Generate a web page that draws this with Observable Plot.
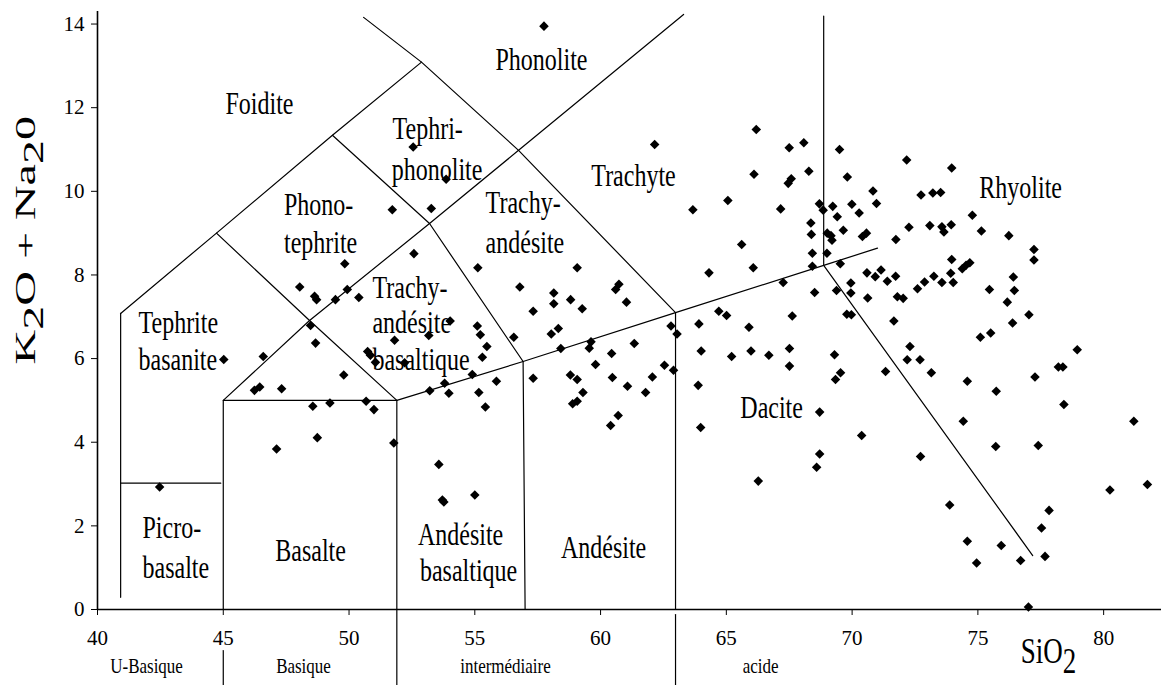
<!DOCTYPE html>
<html><head><meta charset="utf-8">
<script src="https://cdn.jsdelivr.net/npm/d3@7"></script>
<script src="https://cdn.jsdelivr.net/npm/@observablehq/plot@0.6"></script>
<style>body{margin:0;background:#fff;} svg{display:block;}</style>
</head><body><div id="chart"></div>
<script>
// ---- data: SiO2 (wt%) and K2O+Na2O (wt%) ----
const sio2 = [
49.83,48.04,48.63,48.71,49.46,49.93,50.39,48.47,48.67,45.02,46.59,50.74,50.85,51.05,49.79,46.24,46.45,47.32,48.56,49.24,50.68,50.99,48.74,47.12,51.78,42.47,51.81,
57.75,52.55,53.86,51.72,53.27,52.58,62.15,66.19,66.10,65.06,63.67,65.61,66.07,64.31,55.12,59.07,56.79,58.14,58.14,58.81,59.27,57.32,60.73,60.60,61.03,64.70,65.01,63.91,65.90,62.80,63.04,58.04,58.32,55.10,55.22,53.17,54.02,56.55,
55.48,55.30,52.21,54.90,53.21,53.80,53.97,55.16,55.42,55.86,53.57,53.77,53.71,55.00,58.42,59.62,59.55,60.44,61.34,57.32,58.80,59.07,59.30,58.89,59.07,59.80,60.47,61.07,61.79,62.06,62.54,62.90,60.70,60.40,64.00,63.88,63.98,65.21,65.98,66.27,
67.50,68.08,69.50,68.28,67.46,67.58,69.81,67.16,68.70,68.85,69.23,69.41,69.99,70.28,70.83,70.97,68.36,68.38,69.01,69.16,69.20,69.65,70.41,70.57,68.42,68.42,69.00,69.53,67.26,68.51,69.38,69.95,69.95,70.62,70.59,70.92,71.15,71.40,71.73,71.80,72.03,67.62,69.79,69.97,71.66,
72.17,71.74,72.26,72.74,73.21,73.52,73.96,73.09,73.57,73.65,73.94,74.78,75.14,76.23,77.23,77.23,73.96,74.38,74.53,74.68,73.25,72.88,72.60,73.57,73.92,74.02,75.46,76.41,76.45,76.17,76.38,77.03,75.10,75.51,
66.69,67.51,67.51,69.30,69.34,69.54,71.33,72.19,72.30,72.70,73.15,74.58,75.73,77.27,78.20,78.38,78.95,78.42,74.42,75.71,77.40,81.20,68.71,70.38,72.72,68.71,68.59,73.88,74.58,75.93,74.95,76.70,77.83,77.53,77.67,80.25,81.74,77.01
];
const alkali = [
8.27,7.71,7.49,7.41,7.41,7.65,7.46,6.79,6.37,5.98,6.05,6.17,6.08,5.91,5.61,5.24,5.32,5.28,4.86,4.94,4.98,4.78,4.11,3.84,3.98,2.93,6.44,
13.95,11.06,10.29,9.56,9.59,8.51,11.12,11.48,10.41,9.78,9.56,8.73,8.17,8.05,8.17,8.17,7.71,7.57,7.31,7.41,7.19,7.13,7.78,7.65,7.35,7.13,7.03,6.83,6.75,6.78,6.59,6.59,6.72,6.78,6.57,6.55,6.90,6.51,
6.29,6.03,5.90,5.62,5.23,5.41,5.17,5.19,4.84,5.46,3.47,2.57,2.62,2.74,6.24,6.40,6.25,6.12,6.36,5.53,5.61,5.50,5.19,4.92,4.98,5.86,5.55,5.34,5.19,5.56,5.84,5.72,4.64,4.40,6.18,5.36,4.35,6.05,6.18,3.07,
11.04,11.16,11.00,10.48,10.19,10.30,10.34,9.58,9.70,9.55,9.64,9.39,9.69,9.48,10.01,9.71,9.24,8.97,9.00,8.94,8.83,9.07,8.92,9.00,8.52,8.21,8.52,8.27,7.82,7.58,7.63,7.81,7.57,7.45,8.05,7.96,8.12,7.85,7.97,7.48,7.44,7.02,7.06,7.05,6.90,
10.75,8.85,9.14,9.91,9.96,9.97,10.56,9.18,9.15,9.03,9.20,9.43,9.05,8.94,8.61,8.36,8.37,8.15,8.23,8.29,7.97,7.83,7.67,7.82,8.04,7.82,7.65,7.95,7.63,7.35,6.85,7.05,6.51,6.61,
6.08,6.24,5.82,6.09,5.50,5.66,5.69,5.97,6.29,5.97,5.66,5.46,5.22,5.56,5.80,5.80,6.21,4.90,4.50,3.90,3.92,4.50,4.72,4.16,3.66,3.72,3.40,2.50,1.63,1.53,1.11,1.17,2.37,1.95,1.27,2.86,2.99,0.06
];

// ---- TAS field boundaries (SiO2, alkali vertices as drawn) ----
const boundaries = [
  [[40.92,0.29],[40.92,7.08]],
  [[40.92,7.08],[44.73,9.00],[49.34,11.34],[52.88,13.09]],
  [[50.58,14.16],[52.88,13.09],[56.74,10.98],[62.98,7.10]],
  [[45.00,5.00],[48.43,6.91],[53.20,9.23],[56.74,10.98],[63.30,14.23]],
  [[44.73,9.00],[48.43,6.91],[51.90,5.00]],
  [[49.34,11.34],[53.20,9.23],[56.92,5.93]],
  [[45.00,0],[45.00,5.00],[51.90,5.00],[51.90,0]],
  [[51.90,5.00],[56.92,5.93],[62.98,7.10],[68.87,8.23],[71.01,8.64]],
  [[56.92,5.93],[57.00,0]],
  [[62.98,7.10],[62.98,0]],
  [[68.87,8.23],[68.87,14.19]],
  [[68.87,8.23],[77.18,1.29]],
  [[40.92,3.02],[44.90,3.02]]
];
// divisions below the axis (U-Basique | Basique | intermédiaire | acide)
const classDividerX = [45.0, 51.9, 62.98];
const classDividerTop = [-0.98, 0, -0.12];
const classDividerBottom = -1.85;
const classNames = ["U-Basique", "Basique", "intermédiaire", "acide"];
const classX = [41.95, 48.19, 56.22, 66.36];

// ---- field names ----
const centerNames = ["Foidite","Phonolite","Phono-","tephrite","Trachyte","Basalte","Andésite","Dacite","Rhyolite"];
const centerX = [46.44, 57.65, 48.79, 48.87, 61.31, 48.47, 60.12, 66.80, 76.70];
const centerY = [12.10, 13.13, 9.67, 8.76, 10.36, 1.39, 1.46, 4.83, 10.07];
const leftNames = ["Tephri-","phonolite","Trachy-","andésite","Trachy-","andésite","basaltique","Tephrite","basanite","Picro-","basalte","Andésite","basaltique"];
const leftX = [51.73, 51.70, 55.43, 55.43, 50.93, 50.93, 50.93, 41.63, 41.63, 41.79, 41.79, 52.74, 52.82];
const leftY = [11.50, 10.50, 9.71, 8.76, 7.70, 6.84, 5.96, 6.84, 5.96, 1.94, 1.00, 1.77, 0.91];

const xTicks = [40,45,50,55,60,65,70,75,80];
const yTicks = [0,2,4,6,8,10,12,14];

// ---- build tables ----
const points = sio2.map((x, i) => ({x, y: alkali[i]}));
const segRows = [];
boundaries.forEach((seg, id) => seg.forEach(([x, y]) => segRows.push({id, x, y})));
classDividerX.forEach((x, i) => {
  segRows.push({id: "d" + i, x, y: classDividerTop[i]});
  segRows.push({id: "d" + i, x, y: classDividerBottom});
});
const centerRows = centerNames.map((t, i) => ({t, x: centerX[i], y: centerY[i]}));
const leftRows = leftNames.map((t, i) => ({t, x: leftX[i], y: leftY[i]}));
const classRows = classNames.map((t, i) => ({t, x: classX[i], y: -1.36}));

const serif = "'Liberation Serif', 'Times New Roman', serif";
const chart = Plot.plot({
  width: 1161, height: 685,
  marginLeft: 97, marginRight: 0, marginTop: 11, marginBottom: 76,
  style: {fontFamily: serif, background: "white", color: "black"},
  x: {domain: [40, 82.3]},
  y: {domain: [0, 14.3]},
  marks: [
    Plot.axisX(xTicks, {tickSize: 6, tickPadding: 15, fontSize: 21, label: null, tickFormat: d => String(d)}),
    Plot.axisY(yTicks, {tickSize: 6, tickPadding: 7, fontSize: 21, label: null, tickFormat: d => String(d)}),
    Plot.ruleX([40], {stroke: "black", strokeWidth: 1.6}),
    Plot.ruleY([0], {stroke: "black", strokeWidth: 1.6}),
    Plot.line(segRows, {x: "x", y: "y", z: "id", stroke: "black", strokeWidth: 1.2}),
    Plot.dot(points, {x: "x", y: "y", symbol: "diamond2", r: 4.3, fill: "black", stroke: "none"}),
    Plot.text(centerRows, {x: "x", y: "y", text: "t", fontSize: 24, textAnchor: "middle", fill: "black"}),
    Plot.text(leftRows, {x: "x", y: "y", text: "t", fontSize: 24, textAnchor: "start", fill: "black"}),
    Plot.text(classRows, {x: "x", y: "y", text: "t", fontSize: 17, textAnchor: "middle", fill: "black"}),
    Plot.text(["SIO2TITLE"], {x: 76.70, y: -1.0, text: d => d, fontSize: 27, textAnchor: "start", fill: "black"}),
    Plot.text(["YTITLE"], {x: 37.15, y: 8.83, text: d => d, fontSize: 30, rotate: -90, textAnchor: "middle", fill: "black"})
  ]
});
document.getElementById("chart").appendChild(chart);

// ---- typographic touches: tall, narrow lettering and subscripts ----
const stretchSet = new Set([...centerNames, ...leftNames]);
const classSet = new Set(classNames);
chart.querySelectorAll("text").forEach(t => {
  const s = t.textContent;
  const tr = t.getAttribute("transform") || "";
  if (stretchSet.has(s)) {
    t.setAttribute("transform", tr + " scale(1,1.3)");
  } else if (classSet.has(s)) {
    t.setAttribute("transform", tr + " scale(1,1.25)");
  } else if (s === "SIO2TITLE" || s === "YTITLE") {
    const parts = s === "SIO2TITLE"
      ? [["SiO", 0], ["2", 1]]
      : [["K", 0], ["2", 1], ["O + Na", 0], ["2", 1], ["0", 0]];
    while (t.firstChild) t.removeChild(t.firstChild);
    let shifted = false;
    parts.forEach(([str, sub]) => {
      const ts = document.createElementNS("http://www.w3.org/2000/svg", "tspan");
      ts.textContent = str;
      if (sub && !shifted) { ts.setAttribute("dy", "8"); shifted = true; }
      else if (!sub && shifted) { ts.setAttribute("dy", "-8"); shifted = false; }
      t.appendChild(ts);
    });
    if (s === "SIO2TITLE") t.setAttribute("transform", tr + " scale(1,1.3)");
    else t.setAttribute("transform", tr + " scale(1.6,1)");
  }
});
</script>
</body></html>
